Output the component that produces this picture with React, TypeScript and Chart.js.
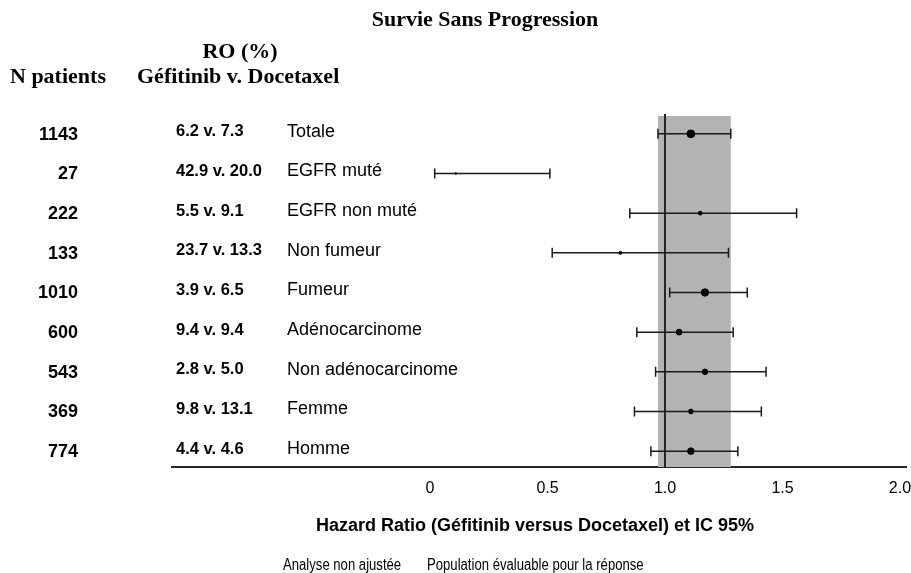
import { useEffect, useRef } from 'react';
import { Chart, registerables } from 'chart.js';

Chart.register(...registerables);

const title = 'Survie Sans Progression';
const headerRO = 'RO (%)';
const headerN = 'N patients';
const headerArms = 'Géfitinib v. Docetaxel';
const axisTitle = 'Hazard Ratio (Géfitinib versus Docetaxel) et IC 95%';
const footerLeft = 'Analyse non ajustée';
const footerRight = 'Population évaluable pour la réponse';

const subgroups = ['Totale', 'EGFR muté', 'EGFR non muté', 'Non fumeur', 'Fumeur', 'Adénocarcinome', 'Non adénocarcinome', 'Femme', 'Homme'];
const nPatients = [1143, 27, 222, 133, 1010, 600, 543, 369, 774];
const roRates = ['6.2 v. 7.3', '42.9 v. 20.0', '5.5 v. 9.1', '23.7 v. 13.3', '3.9 v. 6.5', '9.4 v. 9.4', '2.8 v. 5.0', '9.8 v. 13.1', '4.4 v. 4.6'];
const hazardRatio = [1.11, 0.11, 1.15, 0.81, 1.17, 1.06, 1.17, 1.11, 1.11];
const ciLow = [0.97, 0.02, 0.85, 0.52, 1.02, 0.88, 0.96, 0.87, 0.94];
const ciHigh = [1.28, 0.51, 1.56, 1.27, 1.35, 1.29, 1.43, 1.41, 1.31];
const overallBand = [0.97, 1.28];
const referenceHR = 1.0;
const xTicks = [0, 0.5, 1.0, 1.5, 2.0];

const SANS = "'Liberation Sans', Arial, sans-serif";
const SERIF = "'Liberation Serif', 'Times New Roman', serif";

const radiusFor = (n: number) => 0.3 + 3.6 * Math.sqrt(n / 1143);

function narrowText(ctx: CanvasRenderingContext2D, text: string, x: number, y: number, squeeze: number) {
  ctx.save();
  ctx.translate(x, y);
  ctx.scale(squeeze, 1);
  ctx.fillText(text, 0, 0);
  ctx.restore();
}

const forestPlugin = {
  id: 'forest',
  beforeDatasetsDraw(chart: any) {
    const { ctx, chartArea, scales } = chart;
    const x = scales.x;
    const y = scales.y;
    ctx.save();
    const bx0 = x.getPixelForValue(overallBand[0]);
    const bx1 = x.getPixelForValue(overallBand[1]);
    ctx.fillStyle = '#b3b3b3';
    ctx.fillRect(bx0, chartArea.top + 2, bx1 - bx0, chartArea.bottom - chartArea.top - 2);
    const rx = x.getPixelForValue(referenceHR);
    ctx.strokeStyle = '#262626';
    ctx.lineWidth = 2;
    ctx.beginPath();
    ctx.moveTo(rx, chartArea.top);
    ctx.lineTo(rx, chartArea.bottom);
    ctx.stroke();
    ctx.strokeStyle = '#1a1a1a';
    ctx.lineWidth = 1.5;
    for (let i = 0; i < subgroups.length; i++) {
      const py = y.getPixelForValue(i + 1);
      const lx = x.getPixelForValue(ciLow[i]);
      const hx = x.getPixelForValue(ciHigh[i]);
      ctx.beginPath();
      ctx.moveTo(lx, py);
      ctx.lineTo(hx, py);
      ctx.moveTo(lx, py - 5);
      ctx.lineTo(lx, py + 5);
      ctx.moveTo(hx, py - 5);
      ctx.lineTo(hx, py + 5);
      ctx.stroke();
    }
    ctx.restore();
  },
  afterDraw(chart: any) {
    const { ctx, scales } = chart;
    const y = scales.y;
    ctx.save();
    ctx.fillStyle = '#000';
    ctx.textBaseline = 'middle';
    ctx.font = `bold 22px ${SERIF}`;
    ctx.textAlign = 'center';
    ctx.fillText(title, 485, 20);
    ctx.fillText(headerRO, 240, 52);
    ctx.textAlign = 'left';
    ctx.fillText(headerN, 10, 77);
    ctx.fillText(headerArms, 137, 77);
    for (let i = 0; i < subgroups.length; i++) {
      const py = y.getPixelForValue(i + 1);
      ctx.font = `bold 18px ${SANS}`;
      ctx.textAlign = 'right';
      ctx.fillText(String(nPatients[i]), 78, py + 1);
      ctx.font = `bold 16.5px ${SANS}`;
      ctx.textAlign = 'left';
      ctx.fillText(roRates[i], 176, py - 2);
      ctx.font = `18px ${SANS}`;
      ctx.fillText(subgroups[i], 287, py - 2);
    }
    ctx.font = `bold 18px ${SANS}`;
    ctx.textAlign = 'center';
    ctx.fillText(axisTitle, 535, 526);
    ctx.font = `16px ${SANS}`;
    ctx.textAlign = 'left';
    narrowText(ctx, footerLeft, 283, 566, 0.82);
    narrowText(ctx, footerRight, 427, 566, 0.82);
    ctx.restore();
  },
};

export default function App() {
  const ref = useRef<HTMLCanvasElement>(null);
  useEffect(() => {
    if (!ref.current) return;
    const chart = new Chart(ref.current, {
      type: 'scatter',
      data: {
        datasets: [
          {
            data: hazardRatio.map((v, i) => ({ x: v, y: i + 1 })),
            backgroundColor: '#000',
            borderColor: '#000',
            pointRadius: nPatients.map(radiusFor),
            pointHoverRadius: nPatients.map(radiusFor),
          },
        ],
      },
      options: {
        animation: false,
        responsive: false,
        layout: { padding: { left: 172, top: 114, right: 0, bottom: 0 } },
        plugins: { legend: { display: false }, tooltip: { enabled: false }, title: { display: false } },
        scales: {
          x: {
            type: 'linear',
            min: -1.098,
            max: 2.026,
            afterBuildTicks: (scale: any) => {
              scale.ticks = xTicks.map((v) => ({ value: v }));
            },
            afterFit: (scale: any) => {
              scale.height = 106;
              scale.paddingLeft = 0;
              scale.paddingRight = 0;
            },
            grid: { display: false },
            border: { display: true, color: '#262626', width: 2 },
            ticks: {
              color: '#000',
              font: { family: SANS, size: 16 },
              padding: 4,
              autoSkip: false,
              maxRotation: 0,
              callback: (v: any) => (Number(v) === 0 ? '0' : Number(v).toFixed(1)),
            },
          },
          y: {
            type: 'linear',
            display: false,
            min: 0.5,
            max: 9.4,
            reverse: true,
          },
        },
      },
      plugins: [forestPlugin],
    });
    return () => chart.destroy();
  }, []);
  return (
    <div style={{ position: 'absolute', left: 0, top: 0, width: 911, height: 573, background: '#fff' }}>
      <canvas ref={ref} width={911} height={573} style={{ display: 'block' }} />
    </div>
  );
}
